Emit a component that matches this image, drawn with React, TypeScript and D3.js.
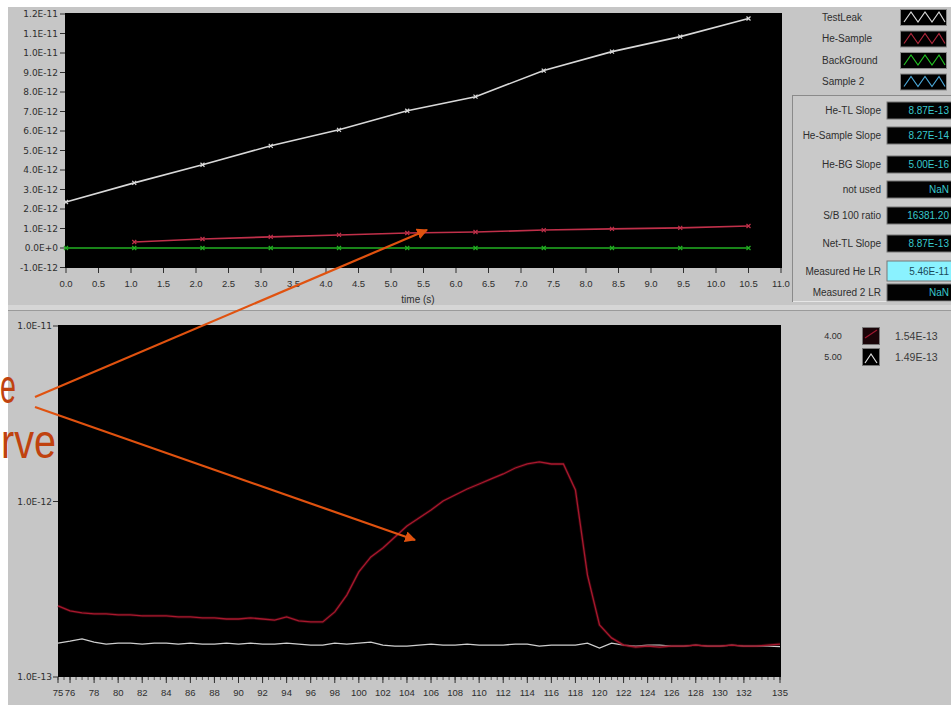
import React from "react";
import * as d3 from "d3";

// ---------- Top chart data ----------
const topTime = [0, 1.05, 2.1, 3.15, 4.2, 5.25, 6.3, 7.35, 8.4, 9.45, 10.5];
const testLeak = [2.36e-12, 3.34e-12, 4.27e-12, 5.24e-12, 6.06e-12, 7.04e-12, 7.76e-12, 9.1e-12, 10.07e-12, 10.84e-12, 11.77e-12];
const heSample = [NaN, 0.31e-12, 0.46e-12, 0.57e-12, 0.67e-12, 0.77e-12, 0.82e-12, 0.92e-12, 0.98e-12, 1.03e-12, 1.13e-12];
const backGround = [0, 0, 0, 0, 0, 0, 0, 0, 0, 0, 0];
const topYTicks = [1.2e-11, 1.1e-11, 1.0e-11, 9e-12, 8e-12, 7e-12, 6e-12, 5e-12, 4e-12, 3e-12, 2e-12, 1e-12, 0, -1e-12];
const topYLabels = ["1.2E-11", "1.1E-11", "1.0E-11", "9.0E-12", "8.0E-12", "7.0E-12", "6.0E-12", "5.0E-12", "4.0E-12", "3.0E-12", "2.0E-12", "1.0E-12", "0.0E+0", "-1.0E-12"];
const topXTicks = [0, 0.5, 1, 1.5, 2, 2.5, 3, 3.5, 4, 4.5, 5, 5.5, 6, 6.5, 7, 7.5, 8, 8.5, 9, 9.5, 10, 10.5, 11];

const legendNames = ["TestLeak", "He-Sample", "BackGround", "Sample 2"];
const legendColors = ["#d8d8d8", "#b0283c", "#22c022", "#4aa6d6"];

const indicatorLabels = ["He-TL Slope", "He-Sample Slope", "He-BG Slope", "not used", "S/B 100 ratio", "Net-TL Slope", "Measured He LR", "Measured 2 LR"];
const indicatorValues = ["8.87E-13", "8.27E-14", "5.00E-16", "NaN", "16381.20", "8.87E-13", "5.46E-11", "NaN"];

// ---------- Bottom chart data ----------
const botX = [75, 76, 77, 78, 79, 80, 81, 82, 83, 84, 85, 86, 87, 88, 89, 90, 91, 92, 93, 94, 95, 96, 97, 98, 99, 100, 101, 102, 103, 104, 105, 106, 107, 108, 109, 110, 111, 112, 113, 114, 115, 116, 117, 118, 119, 120, 121, 122, 123, 124, 125, 126, 127, 128, 129, 130, 131, 132, 133, 134, 135];
const botRed = [2.54, 2.38, 2.32, 2.29, 2.29, 2.26, 2.26, 2.23, 2.23, 2.23, 2.2, 2.2, 2.17, 2.17, 2.14, 2.14, 2.17, 2.14, 2.11, 2.2, 2.09, 2.06, 2.06, 2.35, 2.93, 3.97, 4.83, 5.43, 6.28, 7.25, 8.05, 8.94, 10.07, 10.89, 11.78, 12.58, 13.44, 14.35, 15.52, 16.36, 16.8, 16.36, 16.36, 11.63, 3.81, 1.98, 1.67, 1.52, 1.48, 1.5, 1.48, 1.5, 1.5, 1.52, 1.5, 1.5, 1.52, 1.5, 1.5, 1.52, 1.54].map((v) => v * 1e-13);
const botWhite = [1.56, 1.6, 1.65, 1.58, 1.54, 1.56, 1.56, 1.54, 1.56, 1.56, 1.54, 1.56, 1.54, 1.54, 1.56, 1.54, 1.56, 1.54, 1.54, 1.56, 1.54, 1.52, 1.52, 1.56, 1.54, 1.56, 1.58, 1.52, 1.5, 1.5, 1.52, 1.54, 1.52, 1.52, 1.54, 1.52, 1.52, 1.52, 1.54, 1.54, 1.5, 1.52, 1.52, 1.52, 1.56, 1.46, 1.56, 1.52, 1.5, 1.52, 1.52, 1.5, 1.5, 1.52, 1.5, 1.5, 1.52, 1.5, 1.5, 1.5, 1.49].map((v) => v * 1e-13);
const botXTicks = [75, 76, 78, 80, 82, 84, 86, 88, 90, 92, 94, 96, 98, 100, 102, 104, 106, 108, 110, 112, 114, 116, 118, 120, 122, 124, 126, 128, 130, 132, 135];
const botYTicks = [1e-11, 1e-12, 1e-13];
const botYLabels = ["1.0E-11", "1.0E-12", "1.0E-13"];
const botLegendIds = ["4.00", "5.00"];
const botLegendValues = ["1.54E-13", "1.49E-13"];

const FONT = "'Liberation Sans', Arial, sans-serif";
const YFONT = "'DejaVu Sans', sans-serif";
const AX = "#2e2e2e";

export default function App() {
  // top scales
  const xT = d3.scaleLinear().domain([0, 11]).range([66, 781]);
  const yT = d3.scaleLinear().domain([-1e-12, 1.2e-11]).range([267.5, 14]);
  const lineT = d3
    .line<[number, number]>()
    .defined((d) => !isNaN(d[1]))
    .x((d) => xT(d[0]))
    .y((d) => yT(d[1]));
  const mk = (vals: number[]) => topTime.map((t, i) => [t, vals[i]] as [number, number]);
  const topSeries = [
    { vals: backGround, color: "#22b022" },
    { vals: heSample, color: "#c0304a" },
    { vals: testLeak, color: "#d8d8d8" },
  ];

  // bottom scales
  const xB = d3.scaleLinear().domain([75, 135]).range([58, 780]);
  const yB = d3.scaleLog().domain([1e-13, 1e-11]).range([677, 326]);
  const lineB = d3
    .line<[number, number]>()
    .x((d) => xB(d[0]))
    .y((d) => yB(d[1]));
  const redPts = botX.map((x, i) => [x, botRed[i]] as [number, number]);
  const whitePts = botX.map((x, i) => [x, botWhite[i]] as [number, number]);
  const minorB = d3.range(75, 135.01, 0.5);

  const zig = (x0: number, y0: number) =>
    d3.line()([
      [x0 + 3, y0 + 13],
      [x0 + 10, y0 + 3],
      [x0 + 17, y0 + 13],
      [x0 + 24, y0 + 3],
      [x0 + 31, y0 + 13],
      [x0 + 38, y0 + 3],
      [x0 + 44, y0 + 13],
    ]) as string;

  const indY = [102, 127, 156, 181, 207, 235, 261, 284];

  return (
    <svg
      width={951}
      height={705}
      style={{ position: "absolute", left: 0, top: 0, fontFamily: FONT }}
    >
      <defs>
        <marker id="ah" viewBox="0 0 10 10" refX="9" refY="5" markerWidth="5" markerHeight="5" orient="auto">
          <path d="M0,0 L10,5 L0,10 z" fill="#e0520f" />
        </marker>
      </defs>
      <rect width={951} height={705} fill="#ffffff" />
      {/* panels */}
      <rect x={8} y={7} width={943} height={298} fill="#c6c6c6" />
      <rect x={8} y={305} width={943} height={5} fill="#d6d6d6" />
      <line x1={8} x2={951} y1={310.5} y2={310.5} stroke="#9a9a9a" />
      <rect x={8} y={311} width={943} height={394} fill="#c6c6c6" />

      {/* ---------- top plot ---------- */}
      <rect x={65} y={13} width={717} height={255} fill="#000" />
      {topYTicks.map((v, i) => (
        <g key={"ty" + i}>
          <line x1={60} x2={65} y1={yT(v)} y2={yT(v)} stroke={AX} />
          <text x={58} y={yT(v)} dy="0.35em" textAnchor="end" fontSize={9} fontFamily={YFONT} fill={AX}>
            {topYLabels[i]}
          </text>
        </g>
      ))}
      {topXTicks.map((v, i) => (
        <g key={"tx" + i}>
          <line x1={xT(v)} x2={xT(v)} y1={268} y2={273} stroke={AX} />
          <text x={xT(v)} y={287} textAnchor="middle" fontSize={9.5} fill={AX}>
            {v.toFixed(1)}
          </text>
        </g>
      ))}
      <text x={418} y={303} textAnchor="middle" fontSize={10} fill={AX}>
        time (s)
      </text>
      {topSeries.map((s, si) => (
        <g key={"ts" + si}>
          <path d={lineT(mk(s.vals)) as string} fill="none" stroke={s.color} strokeWidth={1.6} />
          {topTime.map((t, i) =>
            isNaN(s.vals[i]) ? null : (
              <path
                key={i}
                d={`M${xT(t) - 2},${yT(s.vals[i]) - 2}L${xT(t) + 2},${yT(s.vals[i]) + 2}M${xT(t) - 2},${yT(s.vals[i]) + 2}L${xT(t) + 2},${yT(s.vals[i]) - 2}`}
                stroke={s.color}
                strokeWidth={1.2}
              />
            )
          )}
        </g>
      ))}

      {/* top legend */}
      {legendNames.map((n, i) => {
        const y0 = 9 + i * 21.5;
        return (
          <g key={"lg" + i}>
            <text x={822} y={y0 + 8} dy="0.35em" fontSize={10} fill={AX}>
              {n}
            </text>
            <rect x={900.5} y={y0 + 0.5} width={46} height={16} fill="#000" stroke="#888" />
            <path d={zig(901, y0)} fill="none" stroke={legendColors[i]} strokeWidth={1.2} />
          </g>
        );
      })}

      {/* indicator panel */}
      <rect x={792.5} y={95.5} width={160} height={206} fill="#c9c9c9" stroke="#e6e6e6" />
      <line x1={792.5} x2={792.5} y1={95} y2={302} stroke="#8a8a8a" />
      <line x1={792} x2={951} y1={95.5} y2={95.5} stroke="#8a8a8a" />
      {indicatorLabels.map((n, i) => {
        const hl = i === 6;
        const h = hl ? 20 : 17;
        return (
          <g key={"ind" + i}>
            <text x={881} y={indY[i] + h / 2} dy="0.35em" textAnchor="end" fontSize={10} fill={AX}>
              {n}
            </text>
            <rect x={887} y={indY[i]} width={70} height={h} fill={hl ? "#8af2ff" : "#020202"} stroke="#777" />
            <text
              x={949}
              y={indY[i] + h / 2}
              dy="0.35em"
              textAnchor="end"
              fontSize={10}
              fill={hl ? "#1a4a5a" : "#38c8cc"}
            >
              {indicatorValues[i]}
            </text>
          </g>
        );
      })}

      {/* ---------- bottom plot ---------- */}
      <rect x={58} y={325} width={723} height={352} fill="#000" />
      {botYTicks.map((v, i) => (
        <g key={"by" + i}>
          <line x1={53} x2={58} y1={yB(v)} y2={yB(v)} stroke={AX} />
          <text x={52} y={yB(v)} dy="0.35em" textAnchor="end" fontSize={9} fontFamily={YFONT} fill={AX}>
            {botYLabels[i]}
          </text>
        </g>
      ))}
      {minorB.map((v, i) => (
        <line key={"bm" + i} x1={xB(v)} x2={xB(v)} y1={677} y2={680} stroke="#555" />
      ))}
      {botXTicks.map((v, i) => (
        <g key={"bx" + i}>
          <line x1={xB(v)} x2={xB(v)} y1={677} y2={683} stroke={AX} />
          <text x={xB(v)} y={696} textAnchor="middle" fontSize={9.5} fill={AX}>
            {v}
          </text>
        </g>
      ))}
      <path d={lineB(whitePts) as string} fill="none" stroke="#cfcfcf" strokeWidth={1.3} />
      <path d={lineB(redPts) as string} fill="none" stroke="#5a0a14" strokeWidth={3} opacity={0.5} />
      <path d={lineB(redPts) as string} fill="none" stroke="#a8182e" strokeWidth={1.3} />

      {/* bottom legend */}
      {botLegendIds.map((id, i) => {
        const yc = 336 + i * 21;
        return (
          <g key={"bl" + i}>
            <text x={833} y={yc} dy="0.35em" textAnchor="middle" fontSize={9} fill={AX}>
              {id}
            </text>
            <rect x={862.5} y={yc - 8.5} width={17} height={17} fill={i === 0 ? "#1a0408" : "#000"} stroke="#777" />
            {i === 0 ? (
              <path d={`M${865},${yc + 2}L${871},${yc - 2}L${877},${yc - 6}`} stroke="#a01830" strokeWidth={1.2} fill="none" />
            ) : (
              <path d={`M${865},${yc + 6}L${871},${yc - 3}L${877},${yc + 6}`} stroke="#e0e0e0" strokeWidth={1.2} fill="none" />
            )}
            <text x={895} y={yc} dy="0.35em" fontSize={10.5} fill="#3a3a3a">
              {botLegendValues[i]}
            </text>
          </g>
        );
      })}

      {/* annotation */}
      <text x={0} y={403} fontSize={48} fill="#c0420f" textLength={16} lengthAdjust="spacingAndGlyphs">
        e
      </text>
      <text x={1} y={458} fontSize={48} fill="#c0420f" textLength={55} lengthAdjust="spacingAndGlyphs">
        rve
      </text>
      <line x1={35} y1={397} x2={427} y2={230} stroke="#e0520f" strokeWidth={2.2} markerEnd="url(#ah)" />
      <line x1={35} y1={407} x2={415} y2={540} stroke="#e0520f" strokeWidth={2.2} markerEnd="url(#ah)" />
    </svg>
  );
}
